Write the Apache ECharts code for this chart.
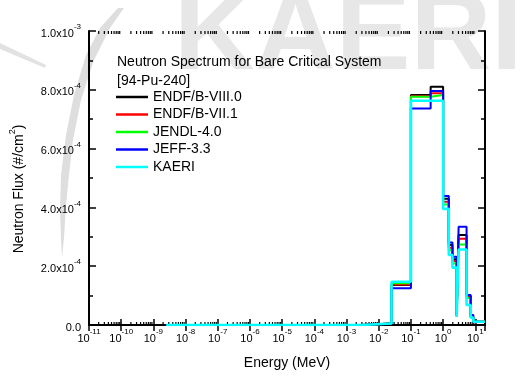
<!DOCTYPE html>
<html>
<head>
<meta charset="utf-8">
<script src="https://cdn.jsdelivr.net/npm/echarts@6/dist/echarts.min.js"></script>
<style>html,body{margin:0;padding:0;background:#fff}#c{width:525px;height:379px}</style>
</head>
<body>
<div id="c"></div>
<script>
// ---- data (energies in MeV, flux in #/cm^2) ----
const energyEdges = [2.5e-9, 3e-3, 0.025, 0.1, 0.41, 1.0, 1.5, 1.95, 2.64, 3.03, 5.35, 7.2, 8.7, 20];
const seriesNames = ['ENDF/B-VIII.0', 'ENDF/B-VII.1', 'JENDL-4.0', 'JEFF-3.3', 'KAERI'];
const endf80 = [0, 5e-6, 1.36e-4, 7.82e-4, 8.10e-4, 4.29e-4, 2.72e-4, 2.24e-4, 0.30e-4, 3.06e-4, 0.98e-4, 0.27e-4, 0.11e-4];
const endf71 = [0, 5e-6, 1.38e-4, 7.78e-4, 7.88e-4, 4.19e-4, 2.63e-4, 2.18e-4, 0.30e-4, 2.93e-4, 0.95e-4, 0.27e-4, 0.11e-4];
const jendl40 = [0, 5e-6, 1.42e-4, 7.76e-4, 7.82e-4, 4.10e-4, 2.54e-4, 2.09e-4, 0.30e-4, 2.74e-4, 0.92e-4, 0.27e-4, 0.11e-4];
const jeff33 = [0, 5e-6, 1.25e-4, 7.36e-4, 7.96e-4, 4.39e-4, 2.81e-4, 2.32e-4, 0.35e-4, 3.34e-4, 1.02e-4, 0.34e-4, 0.11e-4];
const kaeri = [0, 5e-6, 1.47e-4, 7.63e-4, 7.63e-4, 3.95e-4, 2.38e-4, 1.95e-4, 0.28e-4, 2.57e-4, 0.68e-4, 0.25e-4, 0.11e-4];
const xTickExponents = ['-11', '-10', '-9', '-8', '-7', '-6', '-5', '-4', '-3', '-2', '-1', '0', '1'];
const yTickLabels = [['0.0', ''], ['2.0x10', '-4'], ['4.0x10', '-4'], ['6.0x10', '-4'], ['8.0x10', '-4'], ['1.0x10', '-3']];
const minorTickMultipliers = [2, 3, 4, 5, 6, 7, 8, 9];

const FONT = "'Liberation Sans', Arial, Helvetica, sans-serif";
const colors = ['#000000', '#ff0000', '#00ff00', '#0000ff', '#00ffff'];
const widths = [2, 2, 2, 2, 2.6];
const allValues = [endf80, endf71, jendl40, jeff33, kaeri];

function histData(vals) {
  return energyEdges.map((e, i) => [e, vals[Math.min(i, vals.length - 1)]]);
}

const minorTicks = [];
for (let n = -11; n <= 1; n++) {
  minorTickMultipliers.forEach(k => {
    const v = k * Math.pow(10, n);
    if (v < 20) minorTicks.push([v, 0]);
  });
}

const chart = echarts.init(document.getElementById('c'), null, {renderer: 'canvas'});

const xRich = {
  b: {fontSize: 11, fontFamily: FONT, color: '#000', lineHeight: 16, verticalAlign: 'bottom'},
  s: {fontSize: 8, fontFamily: FONT, color: '#000', lineHeight: 10, verticalAlign: 'top'}
};

const lineSeries = seriesNames.map((name, i) => ({
  name: name,
  type: 'line',
  step: 'end',
  symbol: 'none',
  data: histData(allValues[i]),
  lineStyle: {color: colors[i], width: widths[i]},
  itemStyle: {color: colors[i]},
  z: 3 + i,
  animation: false
}));

const option = {
  animation: false,
  grid: {left: 89, right: 40, top: 31, bottom: 54, containLabel: false},
  legend: {
    data: seriesNames,
    orient: 'vertical',
    left: 116,
    top: 90,
    padding: 0,
    itemWidth: 32,
    itemHeight: 2.5,
    itemGap: 3.5,
    icon: 'rect',
    textStyle: {fontSize: 14, fontFamily: FONT, color: '#000'},
    selectedMode: false
  },
  xAxis: [{
    type: 'log',
    logBase: 10,
    min: 1e-11,
    max: 20,
    interval: 1,
    position: 'bottom',
    axisLine: {show: true, lineStyle: {color: '#000', width: 2}},
    axisTick: {show: true, inside: true, length: 6, lineStyle: {color: '#000', width: 1.5}},
    splitLine: {show: false},
    axisLabel: {
      margin: 3,
      formatter: function (v) {
        const lg = Math.log10(v);
        const r = Math.round(lg);
        if (Math.abs(lg - r) > 1e-6) return '';
        const idx = r + 11;
        if (idx < 0 || idx >= xTickExponents.length) return '';
        return '{b|10}{s|' + xTickExponents[idx] + '}';
      },
      rich: xRich
    }
  }, {
    type: 'log',
    logBase: 10,
    min: 1e-11,
    max: 20,
    interval: 1,
    position: 'top',
    axisLine: {show: true, lineStyle: {color: '#000', width: 2}},
    axisTick: {show: true, inside: true, length: 6, lineStyle: {color: '#000', width: 1.5}},
    splitLine: {show: false},
    axisLabel: {show: false}
  }],
  yAxis: [{
    type: 'value',
    min: 0,
    max: 1e-3,
    interval: 2e-4,
    position: 'left',
    axisLine: {show: true, lineStyle: {color: '#000', width: 2}},
    axisTick: {show: true, inside: true, length: 7, lineStyle: {color: '#000', width: 1.5}},
    minorTick: {show: true, splitNumber: 2, length: 4, lineStyle: {color: '#000', width: 1.5}},
    splitLine: {show: false},
    axisLabel: {
      margin: 8,
      formatter: function (v, i) {
        const t = yTickLabels[i] || ['', ''];
        return t[1] ? '{b|' + t[0] + '}{s|' + t[1] + '}' : '{b|' + t[0] + '}';
      },
      rich: xRich
    }
  }, {
    type: 'value',
    min: 0,
    max: 1e-3,
    interval: 2e-4,
    position: 'right',
    axisLine: {show: true, lineStyle: {color: '#000', width: 2}},
    axisTick: {show: true, inside: true, length: 7, lineStyle: {color: '#000', width: 1.5}},
    minorTick: {show: true, splitNumber: 2, length: 4, lineStyle: {color: '#000', width: 1.5}},
    splitLine: {show: false},
    axisLabel: {show: false}
  }],
  series: lineSeries.concat([{
    name: 'minorTicks',
    type: 'custom',
    xAxisIndex: 0,
    yAxisIndex: 0,
    clip: false,
    silent: true,
    z: 1,
    data: minorTicks,
    renderItem: function (params, api) {
      const pb = api.coord([api.value(0), 0]);
      const pt = api.coord([api.value(0), 1e-3]);
      return {
        type: 'group',
        children: [
          {type: 'line', shape: {x1: pb[0], y1: pb[1], x2: pb[0], y2: pb[1] - 3}, style: {stroke: '#000', lineWidth: 1.2}},
          {type: 'line', shape: {x1: pt[0], y1: pt[1], x2: pt[0], y2: pt[1] + 3}, style: {stroke: '#000', lineWidth: 1.2}}
        ]
      };
    }
  }]),
  graphic: [
    {type: 'text', z: -10, x: 174, y: -18,
     style: {text: 'KAERI', font: "bold 112px " + FONT, fill: '#e7e7e7'}},
    {type: 'polygon', z: -10,
     shape: {points: [[118, 8], [100, 28], [86, 55], [74, 95], [66, 135], [61, 175], [60, 210], [61, 240], [62, 258], [64, 238], [66, 205], [69, 175], [73, 140], [81, 100], [94, 60], [110, 28], [124, 8]]},
     style: {fill: '#dedede'}},
    {type: 'polygon', z: -10,
     shape: {points: [[0, 43], [46, 65], [45, 68], [0, 49]]},
     style: {fill: '#e2e2e2'}},
    {type: 'text', x: 117, y: 55.5,
     style: {text: 'Neutron Spectrum for Bare Critical System', font: '14px ' + FONT, fill: '#000'}},
    {type: 'text', x: 117, y: 74.5,
     style: {text: '[94-Pu-240]', font: '14px ' + FONT, fill: '#000'}},
    {type: 'text', x: 287, y: 363,
     style: {text: 'Energy (MeV)', font: '14px ' + FONT, fill: '#000', align: 'center', verticalAlign: 'middle'}},
    {type: 'text', x: 17, y: 189, rotation: Math.PI / 2,
     style: {text: '{a|Neutron Flux (#/cm}{s|2}{a|)}', align: 'center', verticalAlign: 'middle',
       rich: {
         a: {fontSize: 14, fontFamily: FONT, fill: '#000', lineHeight: 18, verticalAlign: 'bottom'},
         s: {fontSize: 9, fontFamily: FONT, fill: '#000', lineHeight: 11, verticalAlign: 'top'}
       }}}
  ]
};
chart.setOption(option);
</script>
</body>
</html>
